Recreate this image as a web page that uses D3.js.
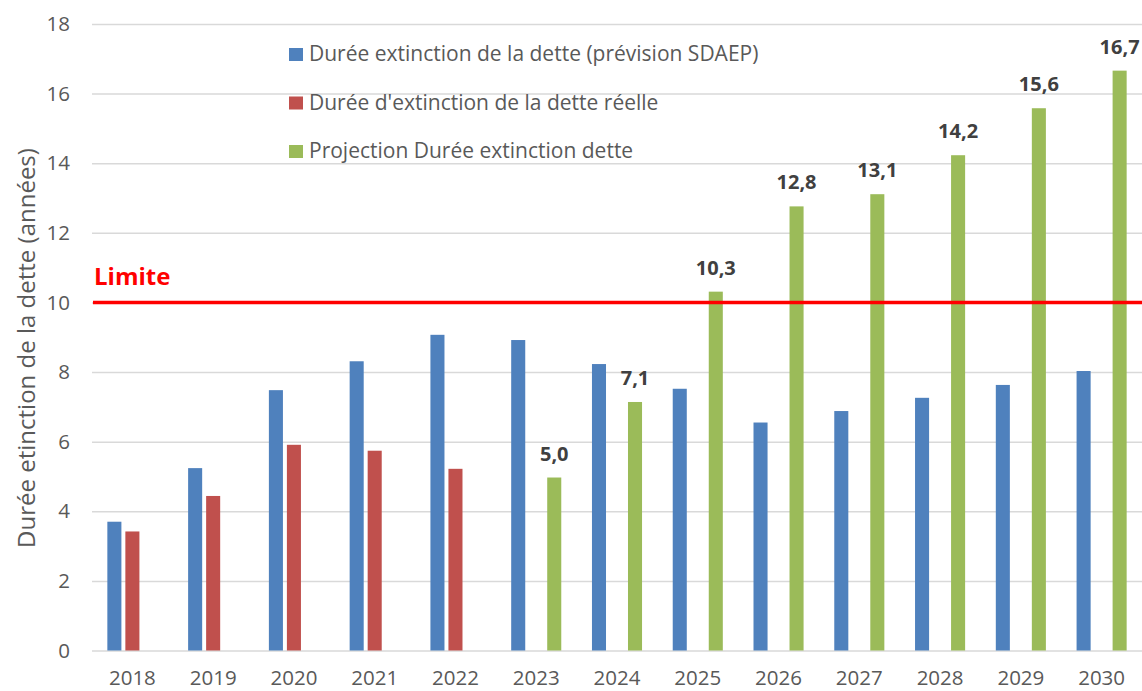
<!DOCTYPE html>
<html>
<head>
<meta charset="utf-8">
<script src="https://cdn.jsdelivr.net/npm/d3@7"></script>
<style>
  body { margin: 0; background: #fff; }
  text { font-family: "Open Sans", sans-serif; }
</style>
</head>
<body>
<div id="chart"></div>
<script>
var years = ["2018","2019","2020","2021","2022","2023","2024","2025","2026","2027","2028","2029","2030"];
var sdaep = [3.70, 5.24, 7.48, 8.31, 9.07, 8.92, 8.23, 7.52, 6.55, 6.88, 7.26, 7.63, 8.03];
var reelle = [3.42, 4.44, 5.91, 5.74, 5.22, null, null, null, null, null, null, null, null];
var projection = [null, null, null, null, null, 4.97, 7.14, 10.31, 12.76, 13.11, 14.23, 15.58, 16.66];
var seriesNames = ["Durée extinction de la dette (prévision SDAEP)", "Durée d'extinction de la dette réelle", "Projection Durée extinction dette"];
var seriesColors = ["#4f81bd", "#c0504d", "#9bbb59"];
var yTicks = [0, 2, 4, 6, 8, 10, 12, 14, 16, 18];
var limite = 10;

var svgWidth = 1142;
var svgHeight = 691;
var margin = { top: 24, right: 0, bottom: 40.5, left: 92 };
var width = svgWidth - margin.left - margin.right;
var height = svgHeight - margin.top - margin.bottom;

var svg = d3.select("#chart")
  .append("svg")
  .attr("width", svgWidth)
  .attr("height", svgHeight);

var chartGroup = svg.append("g")
  .attr("transform", `translate(${margin.left}, ${margin.top})`);

// scales
var x0 = d3.scaleBand()
  .domain(years)
  .range([0, width])
  .paddingInner(0.38)
  .paddingOuter(0.19);

var x1 = d3.scaleBand()
  .domain([0, 1, 2])
  .range([0, x0.bandwidth()])
  .paddingInner(0.22);

var y = d3.scaleLinear()
  .domain([0, 18])
  .range([height, 0]);

// gridlines + y labels
var leftAxis = d3.axisLeft(y)
  .tickValues(yTicks)
  .tickSize(-width)
  .tickPadding(22);

var yAxisG = chartGroup.append("g").call(leftAxis);
yAxisG.select(".domain").remove();
yAxisG.selectAll(".tick line").attr("stroke", "#d9d9d9").attr("stroke-width", 1.5);
yAxisG.selectAll(".tick text")
  .attr("fill", "#595959")
  .attr("font-size", "20.5px")
  .attr("font-family", "Open Sans");

// x labels
var bottomAxis = d3.axisBottom(x0).tickSize(0).tickPadding(20);
var xAxisG = chartGroup.append("g")
  .attr("transform", `translate(0, ${height})`)
  .call(bottomAxis);
xAxisG.select(".domain").remove();
xAxisG.selectAll(".tick text")
  .attr("fill", "#595959")
  .attr("font-size", "20.5px")
  .attr("font-family", "Open Sans");

// bars
var allSeries = [sdaep, reelle, projection];
allSeries.forEach(function(values, s) {
  var pts = years.map(function(yr, i) { return { year: yr, value: values[i] }; })
    .filter(function(d) { return d.value != null; });
  chartGroup.append("g")
    .selectAll("rect")
    .data(pts)
    .enter()
    .append("rect")
    .attr("x", d => x0(d.year) + x1(s))
    .attr("y", d => y(d.value))
    .attr("width", x1.bandwidth())
    .attr("height", d => height - y(d.value))
    .attr("fill", seriesColors[s]);
});

// labels on projection bars
var fmt = d3.format(".1f");
chartGroup.append("g")
  .selectAll("text")
  .data(years.map(function(yr, i) { return { year: yr, value: projection[i] }; }).filter(d => d.value != null))
  .enter()
  .append("text")
  .attr("x", d => x0(d.year) + x1(2) + x1.bandwidth() / 2)
  .attr("y", d => y(d.value) - 17)
  .attr("text-anchor", "middle")
  .attr("font-size", "20px")
  .attr("font-weight", "bold")
  .attr("fill", "#404040")
  .text(d => fmt(d.value).replace(".", ","));

// limit line
chartGroup.append("line")
  .attr("x1", 1)
  .attr("x2", width)
  .attr("y1", y(limite))
  .attr("y2", y(limite))
  .attr("stroke", "#ff0000")
  .attr("stroke-width", 3.5);

chartGroup.append("text")
  .attr("x", 2)
  .attr("y", y(limite) - 17)
  .attr("font-size", "24px")
  .attr("font-weight", "bold")
  .attr("fill", "#ff0000")
  .text("Limite");

// legend
var legend = svg.append("g").attr("transform", "translate(289, 48)");
seriesNames.forEach(function(name, i) {
  var row = legend.append("g").attr("transform", `translate(0, ${i * 48.5})`);
  row.append("rect")
    .attr("width", 14)
    .attr("height", 13)
    .attr("fill", seriesColors[i]);
  row.append("text")
    .attr("x", 20)
    .attr("y", 13)
    .attr("font-size", "21px")
    .attr("fill", "#595959")
    .text(name);
});

// y axis title
svg.append("text")
  .attr("transform", "translate(35, 348) rotate(-90)")
  .attr("text-anchor", "middle")
  .attr("font-size", "24px")
  .attr("fill", "#595959")
  .text("Durée etinction de la dette (années)");
</script>
</body>
</html>
